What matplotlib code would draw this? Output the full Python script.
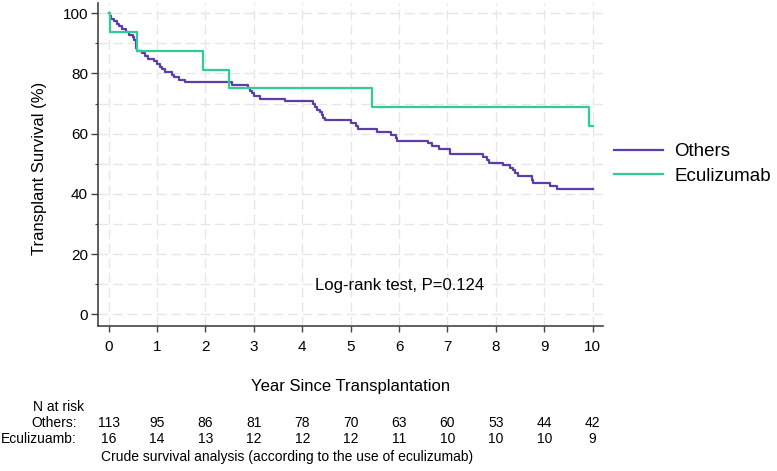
import numpy as np
import matplotlib.pyplot as plt
import matplotlib.transforms as mtransforms

plt.rcParams['font.family'] = ['Liberation Sans', 'DejaVu Sans']

# Kaplan-Meier step points (time in years, survival in %)
others_t = [0.00, 0.02, 0.05, 0.10, 0.17, 0.22, 0.28, 0.35, 0.43, 0.50, 0.53, 0.56, 0.57, 0.58,
            0.68, 0.75, 0.82, 0.93, 1.00, 1.07, 1.10, 1.17, 1.30, 1.35, 1.45, 1.58,
            2.54, 2.87, 2.92, 2.96, 3.00, 3.13, 3.64, 4.23, 4.27, 4.30, 4.36, 4.40, 4.43, 4.46,
            5.00, 5.12, 5.16, 5.54, 5.83, 5.93, 5.95, 6.60, 6.69, 6.83, 7.05,
            7.74, 7.82, 7.86, 8.15, 8.30, 8.35, 8.40, 8.46, 8.74, 8.76, 9.12, 9.27, 10.0]
others_s = [100.0, 99.1, 98.2, 97.3, 96.5, 95.6, 94.7, 93.8, 92.9, 92.0, 91.2, 90.3, 88.5, 87.6,
            86.7, 85.8, 84.9, 84.1, 83.2, 82.3, 81.4, 80.5, 79.6, 78.8, 77.9, 77.0,
            76.1, 75.2, 74.3, 73.4, 72.5, 71.6, 70.7, 69.8, 68.9, 68.0, 67.1, 66.2, 65.3, 64.4,
            63.4, 62.5, 61.6, 60.6, 59.7, 58.7, 57.7, 56.8, 55.8, 54.9, 53.3,
            52.2, 51.2, 50.3, 49.5, 48.7, 47.8, 46.8, 45.8, 44.7, 43.7, 42.6, 41.6, 41.6]

ecu_t = [0.00, 0.03, 0.58, 1.94, 2.48, 5.45, 9.93, 10.0]
ecu_s = [100.0, 93.75, 87.5, 81.25, 75.0, 68.75, 62.5, 62.5]

years = list(range(11))
risk_others = [113, 95, 86, 81, 78, 70, 63, 60, 53, 44, 42]
risk_ecu = [16, 14, 13, 12, 12, 12, 11, 10, 10, 10, 9]

c_others = '#5b3ea6'
c_ecu = '#30cc96'

W, H = 777, 471
fig = plt.figure(figsize=(W / 100, H / 100), dpi=100)
ax = fig.add_axes([97.7 / W, 1 - 325.7 / H, (603.3 - 97.7) / W, (325.7 - 2.7) / H])

ax.step(others_t, others_s, where='post', color=c_others, lw=1.6, label='Others')
ax.step(ecu_t, ecu_s, where='post', color=c_ecu, lw=1.6, label='Eculizumab')

ax.set_xlim(-0.227, 10.22)
ax.set_ylim(-3.8, 103.5)
ax.set_xticks(years)
ax.set_yticks([0, 20, 40, 60, 80, 100])
ax.set_yticks([10, 30, 50, 70, 90], minor=True)
ax.grid(which='both', color='#e6e6e6', lw=1.0, ls=(0, (7, 3.5)))
ax.set_axisbelow(True)
for s in ['top', 'right']:
    ax.spines[s].set_visible(False)
for s in ['left', 'bottom']:
    ax.spines[s].set_color('#444444')
    ax.spines[s].set_linewidth(1.2)
ax.tick_params(axis='x', which='major', length=4.5, width=1.0, color='#444444', labelsize=11, pad=6)
ax.tick_params(axis='y', which='major', length=5, width=1.0, color='#444444', labelsize=11, pad=2)
ax.tick_params(axis='y', which='minor', length=2.5, width=0.8, color='#444444')

ax.text(6.02, 9.4, 'Log-rank test, P=0.124', ha='center', va='center', fontsize=12)

fig.text(350.5 / W, 1 - 386 / H, 'Year Since Transplantation', ha='center', va='center', fontsize=12)
fig.text(40 / W, 1 - 168 / H, 'Transplant Survival (%)', ha='center', va='center',
         rotation=90, fontsize=12)

fig.legend(loc='upper left', bbox_to_anchor=(614 / W, 1 - 143 / H), frameon=False,
           fontsize=13.5, handlelength=2.6, handletextpad=0.6, labelspacing=0.4,
           borderpad=0, borderaxespad=0)

# number at risk table
tr = mtransforms.blended_transform_factory(ax.transData, fig.transFigure)
fig.text(59 / W, 1 - 406.7 / H, 'N at risk', ha='center', va='center', fontsize=10)
fig.text(77 / W, 1 - 422.7 / H, 'Others:', ha='right', va='center', fontsize=10)
fig.text(77 / W, 1 - 439 / H, 'Eculizuamb:', ha='right', va='center', fontsize=10)
for x, a, b in zip(years, risk_others, risk_ecu):
    ax.text(x, 1 - 422.7 / H, str(a), transform=tr, ha='center', va='center', fontsize=10)
    ax.text(x, 1 - 439 / H, str(b), transform=tr, ha='center', va='center', fontsize=10)
fig.text(100.7 / W, 1 - 456.7 / H, 'Crude survival analysis (according to the use of eculizumab)',
         ha='left', va='center', fontsize=10)

fig.savefig('out.png', dpi=100)
